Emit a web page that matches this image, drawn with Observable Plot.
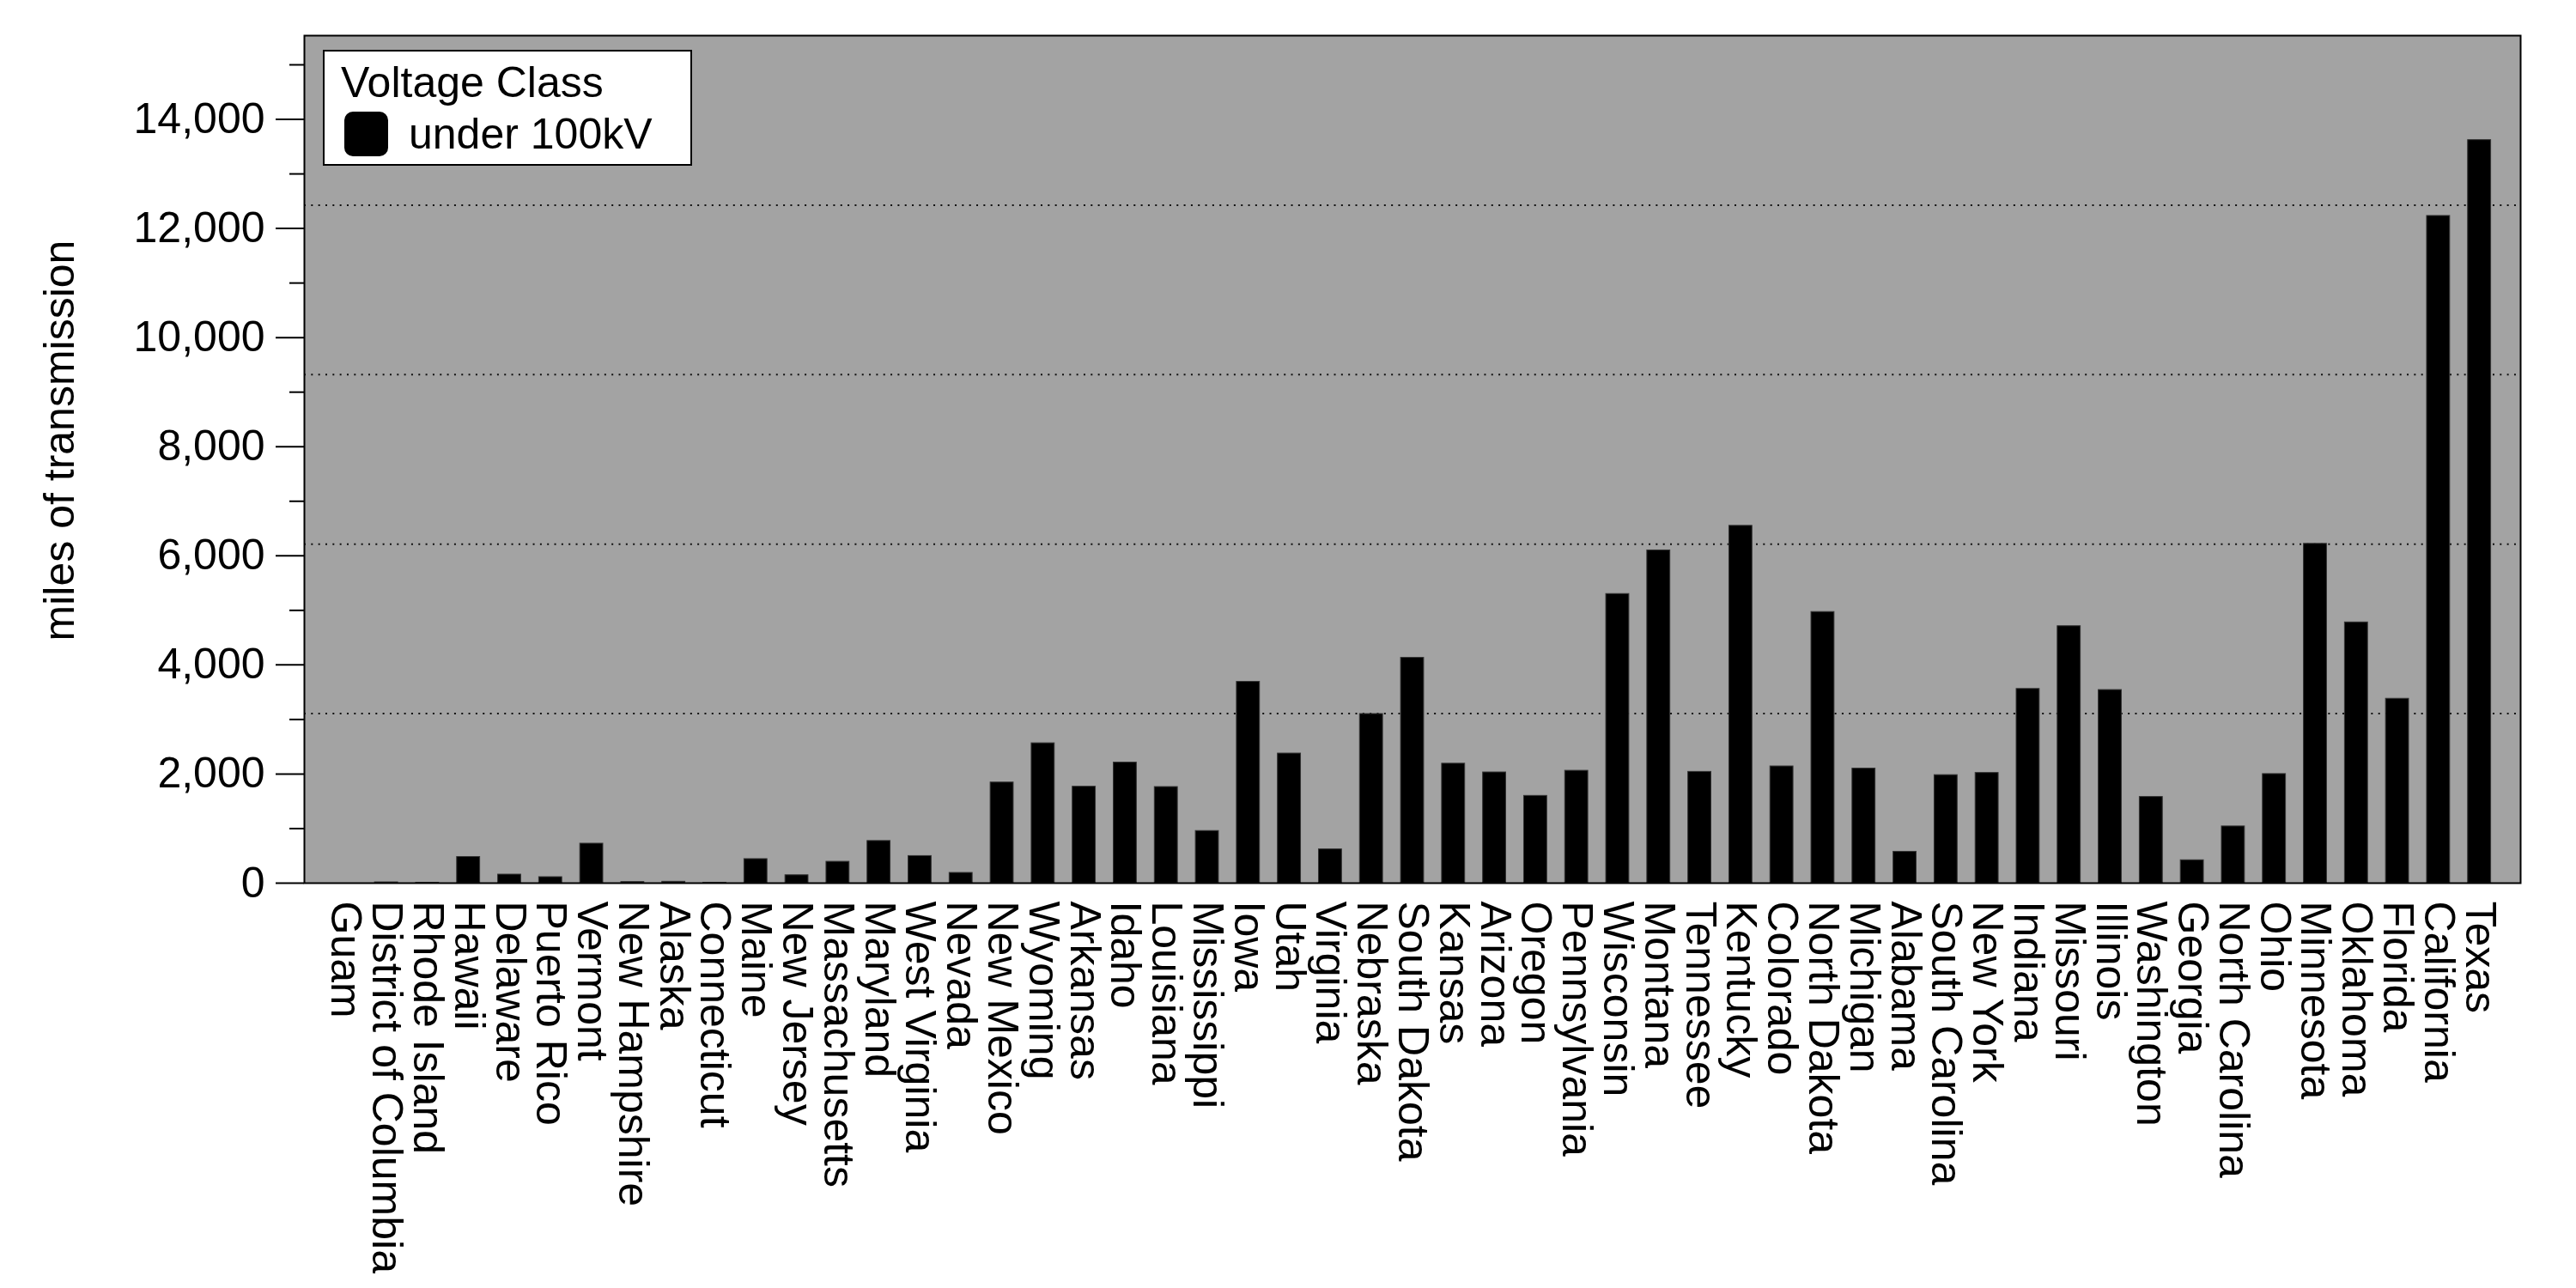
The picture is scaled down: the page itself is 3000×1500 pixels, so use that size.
<!DOCTYPE html>
<html>
<head>
<meta charset="utf-8">
<script src="https://cdn.jsdelivr.net/npm/d3@7"></script>
<script src="https://cdn.jsdelivr.net/npm/@observablehq/plot@0.6"></script>
<style>
  html, body { margin: 0; padding: 0; background: #fff; }
  #wrap { position: relative; width: 3000px; height: 1500px; font-family: "Liberation Sans", Arial, Helvetica, sans-serif; }
  #legend-box { position: absolute; left: 376px; top: 58px; width: 430px; height: 135px; box-sizing: border-box; border: 2px solid #000; background: #fff; }
  .lg-text { position: absolute; font-size: 50px; line-height: 50px; color: #000; white-space: nowrap; }
  #legend-swatch { position: absolute; left: 401px; top: 130px; width: 51px; height: 52px; border-radius: 10px; }
</style>
</head>
<body>
<div id="wrap"></div>
<script>
// ---- data ----
const states = [
  "Guam", "District of Columbia", "Rhode Island", "Hawaii", "Delaware", "Puerto Rico",
  "Vermont", "New Hampshire", "Alaska", "Connecticut", "Maine", "New Jersey",
  "Massachusetts", "Maryland", "West Virginia", "Nevada", "New Mexico", "Wyoming",
  "Arkansas", "Idaho", "Louisiana", "Mississippi", "Iowa", "Utah", "Virginia",
  "Nebraska", "South Dakota", "Kansas", "Arizona", "Oregon", "Pennsylvania",
  "Wisconsin", "Montana", "Tennessee", "Kentucky", "Colorado", "North Dakota",
  "Michigan", "Alabama", "South Carolina", "New York", "Indiana", "Missouri",
  "Illinois", "Washington", "Georgia", "North Carolina", "Ohio", "Minnesota",
  "Oklahoma", "Florida", "California", "Texas"
];
const milesUnder100kV = [
  0, 15, 8, 480, 157, 110,
  724, 21, 26, 8, 441, 145,
  392, 773, 497, 188, 1845, 2564,
  1768, 2210, 1762, 956, 3690, 2376, 619,
  3100, 4130, 2190, 2030, 1600, 2060,
  5300, 6100, 2040, 6550, 2140, 4970,
  2100, 575, 1980, 2020, 3560, 4710,
  3540, 1580, 420, 1040, 2000, 6220,
  4780, 3380, 12230, 13620
];
const yMax = 15535;
const majorTicks = [0, 2000, 4000, 6000, 8000, 10000, 12000, 14000];
const minorTicks = [1000, 3000, 5000, 7000, 9000, 11000, 13000, 15000];
const gridValues = [3107, 6214, 9321, 12428];
const yLabel = "miles of transmission";
const legendTitle = "Voltage Class";
const seriesName = "under 100kV";
const seriesColor = "#000000";

const data = states.map((s, i) => ({state: s, miles: milesUnder100kV[i]}));

const font = "'Liberation Sans', Arial, Helvetica, sans-serif";
const fmt = d3.format(",");

const chart = Plot.plot({
  width: 3000,
  height: 1500,
  marginLeft: 354,
  marginRight: 65,
  marginTop: 41,
  marginBottom: 472,
  style: {fontFamily: font, fontSize: "50px", background: "#fff", color: "#000", overflow: "visible"},
  x: {type: "band", domain: states, paddingInner: 0.439, paddingOuter: 0.72, label: null},
  y: {domain: [0, yMax], label: null},
  marks: [
    Plot.frame({fill: "#a3a3a3", stroke: null}),
    Plot.ruleY(gridValues, {stroke: "#111", strokeWidth: 2, strokeDasharray: "2,6.33"}),
    Plot.barY(data, {x: "state", y: "miles", fill: seriesColor, stroke: "#333", strokeWidth: 1}),
    Plot.frame({stroke: "#000", strokeWidth: 2, fill: null}),
    Plot.axisY({ticks: majorTicks, tickFormat: fmt, tickSize: 33, tickPadding: 13, strokeWidth: 2, fontSize: 50, label: null}),
    Plot.axisY({ticks: minorTicks, tickFormat: () => "", tickSize: 17, strokeWidth: 2, label: null}),
    Plot.axisX({tickSize: 0, tickRotate: 90, tickPadding: 21, fontSize: 50, label: null}),
    Plot.text([yLabel], {text: d => d, frameAnchor: "left", textAnchor: "middle", lineAnchor: "middle", rotate: -90, dx: -285, dy: -22, fontSize: 50})
  ]
});

const wrap = document.getElementById("wrap");
wrap.appendChild(chart);

// legend (HTML overlay)
const box = document.createElement("div");
box.id = "legend-box";
wrap.appendChild(box);
const title = document.createElement("div");
title.className = "lg-text";
title.style.left = "397px";
title.style.top = "71px";
title.textContent = legendTitle;
wrap.appendChild(title);
const sw = document.createElement("div");
sw.id = "legend-swatch";
sw.style.background = seriesColor;
wrap.appendChild(sw);
const lab = document.createElement("div");
lab.className = "lg-text";
lab.style.left = "476px";
lab.style.top = "131px";
lab.textContent = seriesName;
wrap.appendChild(lab);
</script>
</body>
</html>
